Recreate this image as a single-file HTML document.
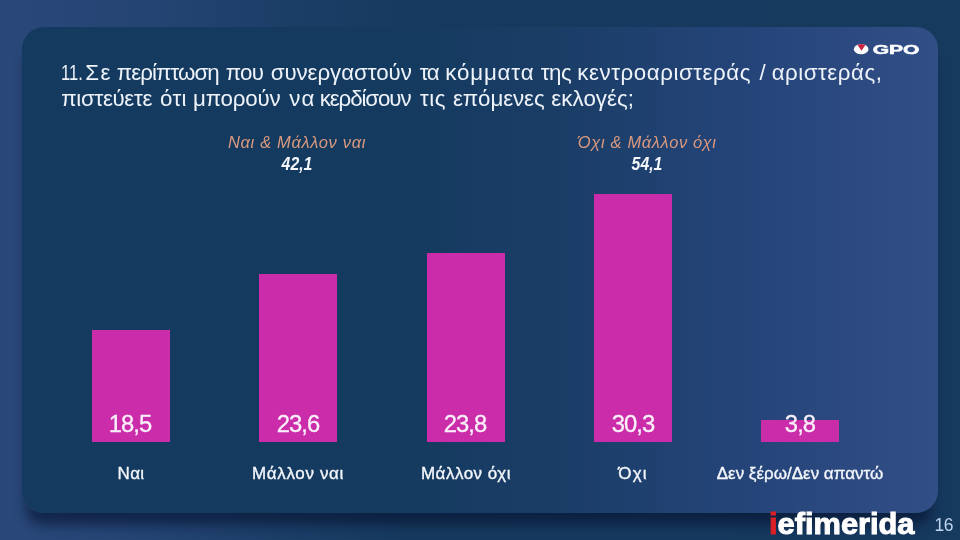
<!DOCTYPE html>
<html lang="el">
<head>
<meta charset="utf-8">
<title>GPO</title>
<style>
*{margin:0;padding:0;box-sizing:border-box}
html,body{width:960px;height:540px;overflow:hidden}
body{position:relative;font-family:"Liberation Sans",sans-serif;color:#f3f6fb;
background:linear-gradient(90deg,#2a487a 0%,#264575 12%,#1b3e67 30%,#163a5f 42%,#16395e 100%);}
.card{position:absolute;left:22px;top:27px;width:916px;height:486px;border-radius:22px;
background:linear-gradient(90deg,#143a5f 0%,#143a5f 40%,#1a3d66 58%,#25457a 80%,#324e86 100%);
box-shadow:-1px 17px 12px -5px rgba(8,20,50,.64);}
.title{position:absolute;left:0;top:0;font-size:22.3px;line-height:26px;white-space:nowrap;color:#eef3fa}
.title span{position:absolute;white-space:nowrap}
.bar{position:absolute;width:78px;background:#cb2daa}
.val{position:absolute;width:120px;text-align:center;font-size:23.8px;letter-spacing:-.9px;line-height:24px;color:#f9f0f9;-webkit-text-stroke:.3px #f9f0f9}
.lab{position:absolute;width:240px;text-align:center;font-size:17px;line-height:20px;color:#f3f6fb;-webkit-text-stroke:.35px #f3f6fb}
.grp{position:absolute;width:240px;text-align:center;font-size:16.5px;letter-spacing:.65px;line-height:20px;color:#db997f;font-style:italic}
.gv{position:absolute;width:240px;text-align:center;font-size:18px;transform:scaleX(.88);line-height:20px;color:#f3f6fb;font-style:italic;font-weight:bold}
.logo{position:absolute;left:769px;top:509px;font-size:29px;line-height:30px;font-weight:bold;letter-spacing:0;transform:scaleX(1.062);transform-origin:0 0;-webkit-text-stroke:1px #fff;color:#fff;white-space:nowrap}
.logo i{font-style:normal;color:#dd1f26;-webkit-text-stroke:1px #dd1f26}
.pg{position:absolute;left:934.6px;top:516px;font-size:17.5px;letter-spacing:-.6px;line-height:18px;color:#bfd4ee}
</style>
</head>
<body>
<div class="card"></div>
<div class="title"><span style="left:60.6px;top:60px;transform:scaleX(.74);transform-origin:0 0">11.</span> <span style="left:85.2px;top:60px;letter-spacing:1.60px">Σε</span> <span style="left:116.7px;top:60px;letter-spacing:-0.92px">περίπτωση</span> <span style="left:225.7px;top:60px;letter-spacing:-0.70px">που</span> <span style="left:270.7px;top:60px;letter-spacing:-0.06px">συνεργαστούν</span> <span style="left:419.8px;top:60px;letter-spacing:-1.60px">τα</span> <span style="left:445.3px;top:60px;letter-spacing:0.83px">κόμματα</span> <span style="left:540.7px;top:60px;letter-spacing:-0.50px">της</span> <span style="left:577.3px;top:60px;letter-spacing:0.55px">κεντροαριστεράς</span> <span style="left:759.5px;top:60px;letter-spacing:0.00px">/</span> <span style="left:771.7px;top:60px;letter-spacing:0.51px">αριστεράς,</span> <span style="left:61.3px;top:86px;letter-spacing:-0.33px">πιστεύετε</span> <span style="left:160.0px;top:86px;letter-spacing:0.35px">ότι</span> <span style="left:193.0px;top:86px;letter-spacing:-0.17px">μπορούν</span> <span style="left:289.3px;top:86px;letter-spacing:1.00px">να</span> <span style="left:319.7px;top:86px;letter-spacing:-1.09px">κερδίσουν</span> <span style="left:420.0px;top:86px;letter-spacing:0.50px">τις</span> <span style="left:453.0px;top:86px;letter-spacing:-0.10px">επόμενες</span> <span style="left:551.3px;top:86px;letter-spacing:0.06px">εκλογές;</span></div>

<svg style="position:absolute;left:850px;top:40px" width="75" height="18" viewBox="0 0 75 18">
<defs><clipPath id="ec"><ellipse cx="11.15" cy="9.15" rx="7.3" ry="5.15"/></clipPath></defs>
<ellipse cx="11.15" cy="9.15" rx="7.3" ry="5.15" fill="#fdfdff"/>
<path d="M6.2 3 L16.8 3 L11.5 10.8 Z" fill="#c9243f" clip-path="url(#ec)"/>
<text x="22.7" y="13.8" font-family="Liberation Sans, sans-serif" font-weight="bold" font-size="12.2" fill="#fdfdff" stroke="#fdfdff" stroke-width=".5" textLength="46.8" lengthAdjust="spacingAndGlyphs">GPO</text>
</svg>

<div class="grp" style="left:177px;top:132px">Ναι &amp; Μάλλον ναι</div>
<div class="gv" style="left:177px;top:154px">42,1</div>
<div class="grp" style="left:527px;top:132px">Όχι &amp; Μάλλον όχι</div>
<div class="gv" style="left:526.5px;top:154px">54,1</div>

<div class="bar" style="left:92px;top:330px;height:112px"></div>
<div class="bar" style="left:259px;top:274px;height:168px"></div>
<div class="bar" style="left:427px;top:253px;height:189px"></div>
<div class="bar" style="left:594px;top:194px;height:248px"></div>
<div class="bar" style="left:761px;top:420px;height:22px"></div>

<div class="val" style="left:70px;top:412px">18,5</div>
<div class="val" style="left:238px;top:412px">23,6</div>
<div class="val" style="left:405px;top:412px">23,8</div>
<div class="val" style="left:573px;top:412px">30,3</div>
<div class="val" style="left:740px;top:412px">3,8</div>

<div class="lab" style="left:11px;top:464px;letter-spacing:.4px">Ναι</div>
<div class="lab" style="left:178px;top:464px;letter-spacing:.65px">Μάλλον ναι</div>
<div class="lab" style="left:346px;top:464px;letter-spacing:.5px">Μάλλον όχι</div>
<div class="lab" style="left:513px;top:464px;letter-spacing:1.2px">Όχι</div>
<div class="lab" style="left:680px;top:464px">Δεν ξέρω/Δεν απαντώ</div>

<div class="logo"><i>i</i>efimerida</div>
<div class="pg">16</div>
</body>
</html>
